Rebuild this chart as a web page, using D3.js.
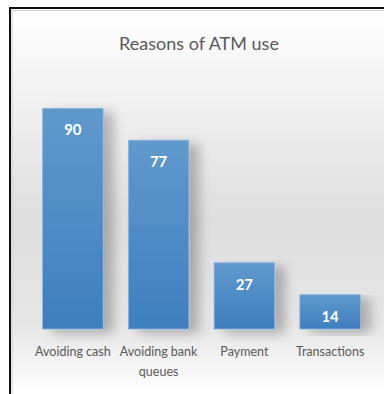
<!DOCTYPE html>
<html>
<head>
<meta charset="utf-8">
<script src="https://cdn.jsdelivr.net/npm/d3@7"></script>
<style>
  html, body { margin: 0; padding: 0; background: #fff; }
  svg { display: block; }
</style>
</head>
<body>
<div id="chart"></div>
<script>
// Chart data
const categories = ['Avoiding cash', 'Avoiding bank queues', 'Payment', 'Transactions'];
const labelLines = [['Avoiding cash'], ['Avoiding bank', 'queues'], ['Payment'], ['Transactions']];
const values = [90, 77, 27, 14];
const chartTitle = 'Reasons of ATM use';

const W = 384, H = 394;
const FONT = 'Lato, "Open Sans", sans-serif';

const svg = d3.select('#chart').append('svg')
  .attr('width', W)
  .attr('height', H);

const defs = svg.append('defs');

// background gradient: white -> gray -> white
const bg = defs.append('linearGradient')
  .attr('id', 'bgGrad').attr('x1', 0).attr('y1', 0).attr('x2', 0).attr('y2', 1);
[[0, '#ffffff'], [0.55, '#dedede'], [0.82, '#e6e6e6'], [1, '#ffffff']].forEach(([o, c]) => {
  bg.append('stop').attr('offset', o).attr('stop-color', c);
});

// bar gradient
const barGrad = defs.append('linearGradient')
  .attr('id', 'barGrad').attr('x1', 0).attr('y1', 0).attr('x2', 0).attr('y2', 1);
barGrad.append('stop').attr('offset', 0).attr('stop-color', '#6099cd');
barGrad.append('stop').attr('offset', 1).attr('stop-color', '#3f7ebf');

// soft shadow behind bars
const shadow = defs.append('filter')
  .attr('id', 'shadow').attr('x', '-20%').attr('y', '-10%').attr('width', '160%').attr('height', '130%');
shadow.append('feGaussianBlur').attr('in', 'SourceAlpha').attr('stdDeviation', 6);
shadow.append('feOffset').attr('dx', 10).attr('dy', 4).attr('result', 'off');
shadow.append('feComponentTransfer').append('feFuncA').attr('type', 'linear').attr('slope', 0.25);
const merge = shadow.append('feMerge');
merge.append('feMergeNode');
merge.append('feMergeNode').attr('in', 'SourceGraphic');

// frame
svg.append('rect')
  .attr('x', 10).attr('y', 8).attr('width', W - 10).attr('height', H - 8)
  .attr('fill', 'url(#bgGrad)');
svg.append('line').attr('x1', 10).attr('x2', W).attr('y1', 8).attr('y2', 8)
  .attr('stroke', '#111').attr('stroke-width', 2);
svg.append('line').attr('x1', 10).attr('x2', 10).attr('y1', 7).attr('y2', H)
  .attr('stroke', '#111').attr('stroke-width', 2);
svg.append('line').attr('x1', 11).attr('x2', W).attr('y1', 10.5).attr('y2', 10.5)
  .attr('stroke', '#d0d0d0').attr('stroke-width', 1);
svg.append('line').attr('x1', 12).attr('x2', 12).attr('y1', 10).attr('y2', H)
  .attr('stroke', '#d0d0d0').attr('stroke-width', 1);

// title
svg.append('text')
  .attr('x', 199).attr('y', 50)
  .attr('text-anchor', 'middle')
  .attr('font-family', FONT)
  .attr('font-size', 18)
  .attr('fill', '#595959')
  .text(chartTitle);

// scales
const x = d3.scaleBand()
  .domain(categories)
  .range([30, 373])
  .paddingInner(0.294)
  .paddingOuter(0.147);

const y = d3.scaleLinear()
  .domain([0, 100])
  .range([329, 329 - 245.2]);

const bars = svg.append('g');

bars.selectAll('rect')
  .data(values)
  .join('rect')
  .attr('x', (d, i) => x(categories[i]))
  .attr('y', d => y(d))
  .attr('width', x.bandwidth())
  .attr('height', d => y(0) - y(d))
  .attr('fill', 'url(#barGrad)')
  .attr('stroke', '#8fb4de')
  .attr('stroke-width', 0.8)
  .attr('filter', 'url(#shadow)');

// value labels
bars.selectAll('text')
  .data(values)
  .join('text')
  .attr('x', (d, i) => x(categories[i]) + x.bandwidth() / 2)
  .attr('y', d => y(d) + 27)
  .attr('text-anchor', 'middle')
  .attr('font-family', FONT)
  .attr('font-weight', 'bold')
  .attr('font-size', 15)
  .attr('fill', '#ffffff')
  .text(d => d);

// category labels
const labels = svg.append('g')
  .attr('font-family', FONT)
  .attr('font-size', 12.5)
  .attr('fill', '#595959')
  .attr('text-anchor', 'middle');

labels.selectAll('text')
  .data(categories)
  .join('text')
  .attr('x', d => x(d) + x.bandwidth() / 2)
  .attr('y', 356)
  .each(function(d, i) {
    d3.select(this).selectAll('tspan')
      .data(labelLines[i])
      .join('tspan')
      .attr('x', x(d) + x.bandwidth() / 2)
      .attr('dy', (t, j) => j === 0 ? 0 : 20)
      .text(t => t);
  });
</script>
</body>
</html>
